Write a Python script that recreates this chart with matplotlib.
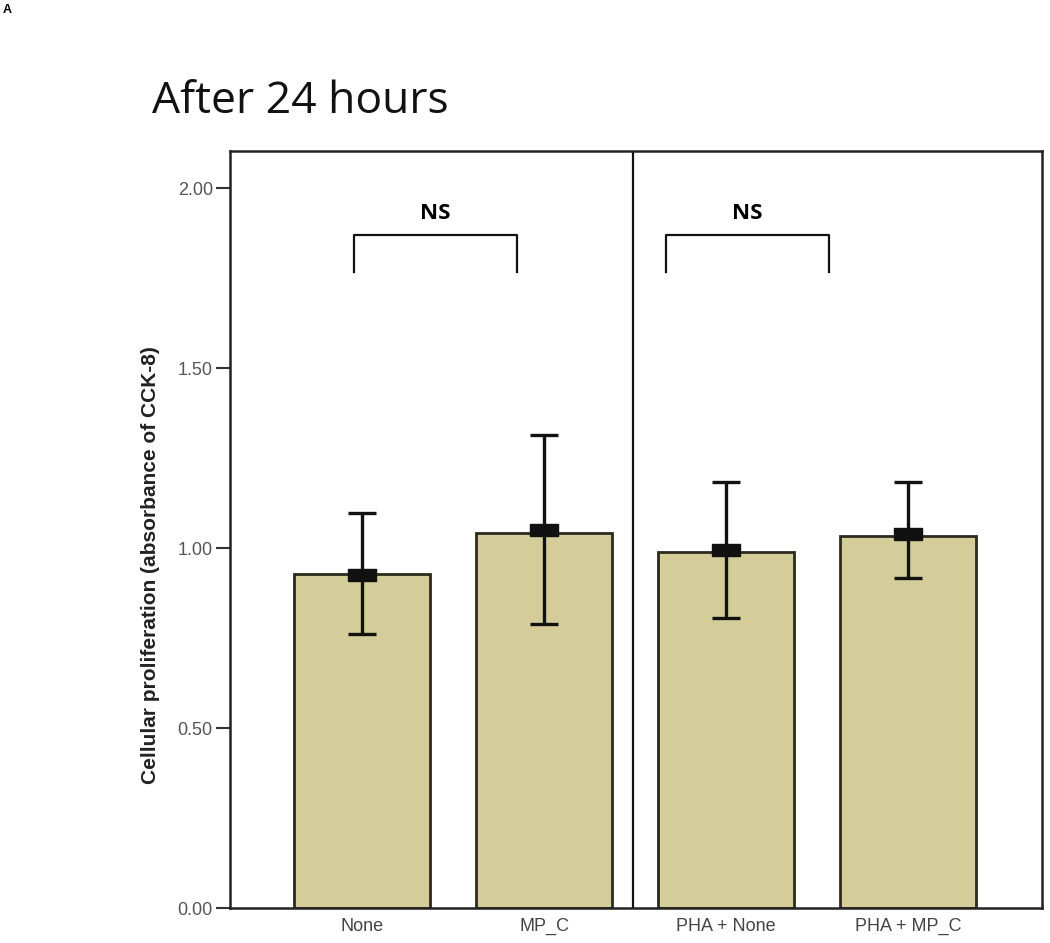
import matplotlib
matplotlib.use("Agg")
import matplotlib.pyplot as plt
import numpy as np

# data
groups = ["None", "MP_C", "PHA + None", "PHA + MP_C"]
bar_heights = [0.927, 1.041, 0.990, 1.034]
means = [0.925, 1.050, 0.994, 1.040]
err_low = [0.762, 0.790, 0.805, 0.917]
err_high = [1.098, 1.315, 1.183, 1.183]
y_ticks = [0.0, 0.5, 1.0, 1.5, 2.0]

# significance brackets (x from, x to, label)
brackets = [(-0.044, 0.852, "NS"), (1.67, 2.566, "NS")]
bracket_top = 1.869
bracket_bottom = 1.767
ns_y = 1.90

bar_color = "#d4cd9a"
edge_color = "#2b2a1c"

fig = plt.figure(figsize=(10.5, 9.43), dpi=100)
ax = fig.add_axes([0.2186, 0.0371, 0.7738, 0.8031])

x = np.arange(len(groups))
ax.bar(x, bar_heights, width=0.75, color=bar_color, edgecolor=edge_color,
       linewidth=2.0, zorder=2)

means = np.array(means)
yerr = [means - np.array(err_low), np.array(err_high) - means]
ax.errorbar(x, means, yerr=yerr, fmt="none", ecolor="#111111",
            elinewidth=2.4, capsize=10, capthick=2.4, zorder=3)

# mean markers: wide black rectangles
rect = [(-1, -0.43), (1, -0.43), (1, 0.43), (-1, 0.43), (-1, -0.43)]
ax.plot(x, means, linestyle="none", marker=rect, markersize=20,
        color="#111111", zorder=4)

# divider between the two panels
ax.axvline(1.489, color="#111111", linewidth=1.6, zorder=1)

for x0, x1, label in brackets:
    ax.plot([x0, x0, x1, x1], [bracket_bottom, bracket_top, bracket_top, bracket_bottom],
            color="#111111", linewidth=1.6)
    ax.text((x0 + x1) / 2, ns_y, label, ha="center", va="bottom",
            fontsize=16, fontweight="bold", family="Open Sans")

ax.set_xlim(-0.728, 3.736)
ax.set_ylim(0, 2.104)
ax.set_yticks(y_ticks)
ax.set_yticklabels([f"{v:.2f}" for v in y_ticks], color="#555555",
                   fontsize=13, family="Liberation Sans")
ax.set_xticks(x)
ax.set_xticklabels(groups, color="#444444", fontsize=13, family="Liberation Sans")
ax.tick_params(axis="x", length=0, pad=7)
ax.tick_params(axis="y", length=10, width=1.5, color="#333333", pad=2)

for s in ax.spines.values():
    s.set_linewidth(1.8)
    s.set_color("#222222")

ax.set_ylabel("Cellular proliferation (absorbance of CCK-8)", fontsize=15,
              fontweight="bold", family="Liberation Sans", color="#222222")
ax.yaxis.set_label_coords(-0.086, 0.4525)

fig.text(152 / 1050, 1 - 113 / 943, "After 24 hours", fontsize=32,
         family="Open Sans", va="baseline", ha="left", color="#111111")
fig.text(3 / 1050, 1 - 13 / 943, "A", fontsize=9, fontweight="bold",
         family="Liberation Sans", va="baseline", ha="left")

fig.savefig("out.png", dpi=100)
